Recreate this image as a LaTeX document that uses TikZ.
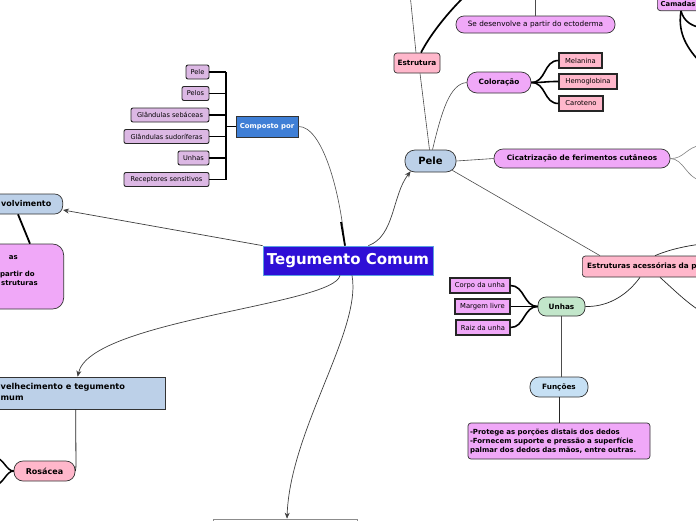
\documentclass[tikz,border=0pt]{standalone}
\usepackage{fontspec}
\setmainfont{DejaVu Sans}
\usetikzlibrary{calc,arrows.meta}
\definecolor{tegblue}{HTML}{2E0FD6}
\definecolor{tegborder}{HTML}{5AA0E0}
\definecolor{compblue}{HTML}{3F7FD6}
\definecolor{lblue}{HTML}{BCD0E8}
\definecolor{pinkc}{HTML}{FFB7CB}
\definecolor{violetc}{HTML}{F0A8F8}
\definecolor{lav}{HTML}{DCB8E4}
\definecolor{greenc}{HTML}{C2E6CA}
\definecolor{funblue}{HTML}{C6E0F4}
\definecolor{edgec}{HTML}{333333}
\begin{document}
\begin{tikzpicture}[x=1pt,y=-1pt,
  box/.style={draw=edgec, line width=0.7pt, inner sep=0pt, align=center, font=\fontsize{7.3}{8.8}\selectfont\bfseries},
  lst/.style={draw=black!85, line width=0.9pt, fill=lav, rounded corners=2pt, inner sep=0pt, minimum height=14, font=\fontsize{6.6}{7.8}\selectfont},
  leaf/.style={draw=black!85, line width=1.1pt, inner sep=0pt, minimum height=15, font=\fontsize{6.8}{8}\selectfont},
  txt/.style={inner sep=0pt, font=\fontsize{7}{10.5}\selectfont\bfseries},
  thin/.style={draw=black!70, line width=0.6pt},
  bold/.style={draw=black, line width=1.5pt},
  arr/.style={draw=black!75, line width=0.7pt, -{Stealth[length=6pt,width=5pt]}}
]
\useasboundingbox (0,0) rectangle (696,520);
\fill[white] (0,0) rectangle (696,520);
\clip (0,0) rectangle (696,520);

% central
\node[box, fill=tegblue, draw=tegborder, text=white, font=\fontsize{15}{18}\selectfont\bfseries, minimum width=170, minimum height=29] (teg) at (348,260.5) {Tegumento Comum};

% composto por
\node[box, fill=compblue, text=white, minimum width=62, minimum height=21, font=\fontsize{6.9}{8}\selectfont\bfseries] (comp) at (267,126.5) {Composto por};
\node[lst, minimum width=23] (l1) at (197.5,72) {Pele};
\node[lst, minimum width=27] (l2) at (195.5,93.5) {Pelos};
\node[lst, minimum width=78] (l3) at (170,115) {Glândulas sebáceas};
\node[lst, minimum width=85] (l4) at (166.5,136.5) {Glândulas sudoríferas};
\node[lst, minimum width=31] (l5) at (193.5,158) {Unhas};
\node[lst, minimum width=85] (l6) at (166.5,179.5) {Receptores sensitivos};
\coordinate (br) at (226,126.5);
\foreach \n in {l1,l2,l3,l4,l5,l6} \draw[bold, line width=1.6pt] (\n.east) -- (\n.east -| br);
\draw[bold, line width=1.6pt] (l1.east -| br) -- (l6.east -| br);
\draw[bold, line width=1.6pt] (br) -- (comp.west);
\draw[thin] (comp.east) .. controls (322,126) and (340,190) .. ([xshift=-3pt]teg.north);
\draw[bold, line width=1.8pt] (341,222) -- ([xshift=-3pt]teg.north);

% desenvolvimento
\node[box, fill=lblue, anchor=east, minimum width=140, minimum height=20, rounded corners=8pt] (desen) at (63,204) {};
\node[txt, anchor=east, font=\fontsize{8}{9.5}\selectfont\bfseries] (dt) at (51.5,204) {volvimento};
\node[box, fill=violetc, anchor=east, minimum width=130, minimum height=65, rounded corners=11pt] (dbox) at (64,276.5) {};
\node[txt, anchor=base east] (d1) at (18,259) {as};
\node[txt, anchor=base east] (d2) at (35,276) {partir do};
\node[txt, anchor=base east] (d3) at (38,285) {struturas};
\draw[arr] (teg.north west) -- ([yshift=-6pt]desen.east);
\draw[bold, line width=1.8pt] ([xshift=-45pt]desen.south east) -- ([xshift=-34pt]dbox.north east);

% envelhecimento
\node[box, fill=lblue, anchor=east, minimum width=190, minimum height=32] (env) at (166,393) {};
\node[txt, anchor=north west, align=left, font=\fontsize{8.2}{11}\selectfont\bfseries] (envt) at (0.5,383.5) {velhecimento e tegumento\\mum};
\draw[arr] ([xshift=-8pt]teg.south) .. controls (335,305) and (90,320) .. ([xshift=7pt]env.north);
\node[box, fill=pinkc, minimum width=61, minimum height=20, rounded corners=9pt, font=\fontsize{8}{9.5}\selectfont\bfseries] (ros) at (44.5,471) {Rosácea};
\draw[thin, draw=black!85, line width=0.8pt, rounded corners=3pt] ([xshift=5pt]env.south) -- (76,468) -- (ros.east);
\coordinate (r1) at (-6,457);
\coordinate (r2) at (-6,486);
\draw[bold] (ros.west) .. controls (6,471) and (4,458) .. (r1);
\draw[bold] (ros.west) .. controls (6,471) and (4,484) .. (r2);

% bottom
\node[draw=black!45, line width=0.7pt, minimum width=144, minimum height=20, inner sep=0pt] (bot) at (285,529) {};
\draw[arr] ([xshift=4pt]teg.south) .. controls (362,330) and (290,430) .. ([xshift=2pt]bot.north);

% pele
\node[box, fill=lblue, minimum width=51, minimum height=22, rounded corners=10pt, font=\fontsize{10}{12}\selectfont\bfseries] (pele) at (430.5,161) {Pele};
\draw[arr] ([xshift=-65pt]teg.north east) .. controls (395,236) and (392,195) .. ([xshift=6pt,yshift=1pt]pele.south west);

% estrutura
\node[box, fill=pinkc, minimum width=46, minimum height=20, rounded corners=3pt] (estr) at (417,63) {Estrutura};
\coordinate (etop) at (410,-6);
\coordinate (etop2) at (467,-6);
\draw[thin] ([xshift=-1pt]pele.north) -- ([xshift=3pt]estr.south);
\draw[thin] ([xshift=-1pt]estr.north) -- (etop);
\draw[bold, line width=1.7pt] ([xshift=4pt]estr.north) .. controls (430,35) and (448,12) .. (etop2);

\node[box, fill=violetc, minimum width=159, minimum height=17, rounded corners=8pt, font=\fontsize{7.3}{8.5}\selectfont] (sed) at (535.5,24.5) {Se desenvolve a partir do ectoderma};
\coordinate (stop) at (535.5,-6);
\draw[thin] (sed.north) -- (stop);

% coloracao
\node[box, fill=violetc, minimum width=64, minimum height=21, rounded corners=10pt] (col) at (499,82.5) {Coloração};
\draw[thin] ([xshift=2pt]pele.north) .. controls (442,110) and (450,84) .. (col.west);
\node[leaf, fill=pinkc, minimum width=43] (mel) at (580.5,60.5) {Melanina};
\node[leaf, fill=pinkc, minimum width=58] (hem) at (588,81.5) {Hemoglobina};
\node[leaf, fill=pinkc, minimum width=44] (car) at (581,103.5) {Caroteno};
\foreach \n in {mel,hem,car}
  \draw[bold, line width=1.6pt] (col.east) .. controls +(15,0) and +(-15,0) .. (\n.west);

% cicatrizacao
\node[box, fill=violetc, minimum width=176, minimum height=19, rounded corners=9pt] (cic) at (582,158.5) {Cicatrização de ferimentos cutâneos};
\draw[thin] (pele.east) -- (cic.west);
\coordinate (c1) at (702,145);
\coordinate (c2) at (702,181);
\draw[thin, draw=black!50] (cic.east) .. controls (684,159) and (686,147) .. (c1);
\draw[thin, draw=black!50] (cic.east) .. controls (684,159) and (686,178) .. (c2);

% camadas
\node[box, fill=violetc, anchor=south west, minimum width=60, minimum height=20, rounded corners=3pt] (cam) at (657,11) {};
\node[txt, anchor=west, font=\fontsize{6.8}{8}\selectfont\bfseries] (camt) at (660.5,4) {Camadas};
\coordinate (k1) at (702,28);
\coordinate (k2) at (700,62);
\draw[bold, line width=1.6pt] ([xshift=24pt]cam.south west) .. controls (684,22) and (692,26) .. (k1);
\draw[bold, line width=1.6pt] ([xshift=24pt]cam.south west) .. controls (678,30) and (684,45) .. (k2);

% estruturas acessorias
\node[box, fill=pinkc, anchor=west, minimum width=130, minimum height=21, rounded corners=3pt] (eac) at (582,266.5) {};
\node[txt, anchor=west, font=\fontsize{7.3}{8.5}\selectfont\bfseries] (eact) at (587,266.5) {Estruturas acessórias da p};
\draw[thin] ([xshift=-4pt,yshift=2pt]pele.south east) -- ([xshift=18pt]eac.north west);
\coordinate (e1) at (702,244);
\coordinate (e2) at (702,312);
\draw[thin, draw=black!85, line width=0.7pt] ([xshift=73pt]eac.north west) .. controls (668,250) and (685,246) .. (e1);
\draw[thin, draw=black!85, line width=0.7pt] ([xshift=78pt]eac.south west) .. controls (672,288) and (688,304) .. (e2);

% unhas
\node[box, fill=greenc, minimum width=47, minimum height=19, rounded corners=8pt] (unh) at (561.5,306.5) {Unhas};
\draw[thin, draw=black!85, line width=0.7pt] ([xshift=58pt]eac.south west) .. controls (625,298) and (605,307) .. (unh.east);
\node[leaf, fill=violetc, minimum width=60] (u1) at (480,285.5) {Corpo da unha};
\node[leaf, fill=violetc, minimum width=55] (u2) at (482.5,306.5) {Margem livre};
\node[leaf, fill=violetc, minimum width=54] (u3) at (483,327.5) {Raiz da unha};
\foreach \n in {u1,u2,u3}
  \draw[bold, line width=1.6pt] (unh.west) .. controls +(-14,0) and +(14,0) .. (\n.east);

% funcoes
\node[box, fill=funblue, minimum width=58, minimum height=20, rounded corners=9pt] (fun) at (559,387) {Funções};
\draw[thin, draw=black!70, line width=1pt] (unh.south) -- ([xshift=2.5pt]fun.north);
\node[box, fill=violetc, minimum width=182, minimum height=36, rounded corners=3pt, text width=178, align=left, font=\fontsize{7}{9}\selectfont\bfseries] (fbox) at (559,441) {-Protege as porções distais dos dedos\\-Fornecem suporte e pressão a superfície\\palmar dos dedos das mãos, entre outras.};
\draw[thin, draw=black!85, line width=0.8pt] (fun.south) -- (fbox.north);
\end{tikzpicture}
\end{document}
